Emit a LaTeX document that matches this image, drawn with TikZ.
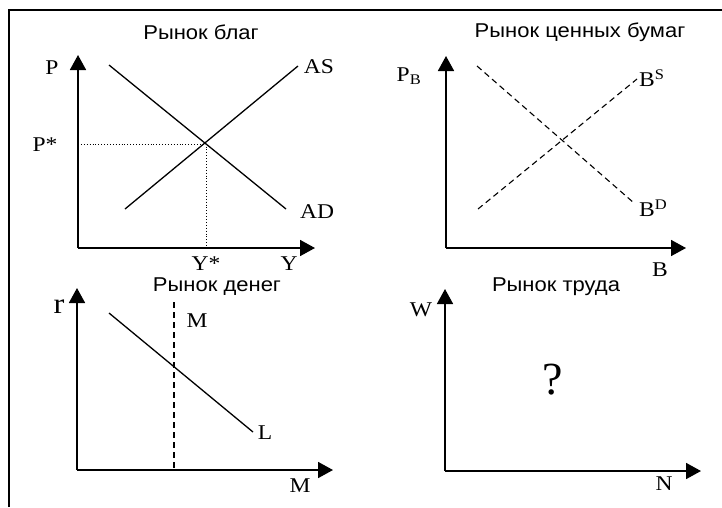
\documentclass[tikz,border=0pt]{standalone}
\usepackage{fontspec}
\setmainfont{Liberation Serif}[FakeStretch=1.12]
\newfontfamily\titlefont{Liberation Sans}[FakeStretch=1.1]
\newfontfamily\markfont{Liberation Serif}
\usetikzlibrary{arrows.meta}

\begin{document}
\begin{tikzpicture}[x=1pt, y=-1pt,
    every node/.style={font=\fontsize{21}{21}\selectfont, inner sep=0pt},
    axis/.style={line width=1.7pt, -{Triangle[length=15pt,width=16pt]}},
    curve/.style={line width=1.3pt},
    dashcurve/.style={line width=1.1pt, dash pattern=on 6pt off 4pt},
    guide/.style={line width=0.9pt, dotted},
    paneltitle/.style={font=\titlefont\fontsize{20}{20}\selectfont}]
    \useasboundingbox (0,0) rectangle (722,507);
    % Frame
    \draw[line width=1.6pt] (9,507) -- (9,10) -- (722,10);

    % Goods market
    \coordinate (O1) at (78,248);
    \coordinate (ytip1) at (78,55);
    \coordinate (xtip1) at (315,248);
    \coordinate (adA) at (109,65);  \coordinate (adB) at (286,209);
    \coordinate (asA) at (125,209); \coordinate (asB) at (298,66);
    \coordinate (eq1) at (206,144);
    \coordinate (peq) at (78,144);  \coordinate (yeq) at (206,248);
    \node[paneltitle] (t1) at (201,32) {Рынок благ};
    \draw[axis] (O1) -- (ytip1);
    \draw[axis] (O1) -- (xtip1);
    \draw[curve] (adA) -- (adB);
    \draw[curve] (asA) -- (asB);
    \draw[guide] (peq) -- (eq1) -- (yeq);
    \node (lP) at (52,68) {P};
    \node (lPs) at (45,145) {P*};
    \node (lYs) at (206,264) {Y*};
    \node (lY) at (289,264) {Y};
    \node (lAS) at (319,67) {AS};
    \node (lAD) at (317,212) {AD};

    % Bond market
    \coordinate (O2) at (446,248);
    \coordinate (ytip2) at (446,56);
    \coordinate (xtip2) at (686,248);
    \coordinate (bdA) at (477,66);  \coordinate (bdB) at (634,203);
    \coordinate (bsA) at (478,209); \coordinate (bsB) at (637,79);
    \node[paneltitle] (t2) at (580,32) {Рынок ценных бумаг};
    \draw[axis] (O2) -- (ytip2);
    \draw[axis] (O2) -- (xtip2);
    \draw[dashcurve] (bdA) -- (bdB);
    \draw[dashcurve] (bsA) -- (bsB);
    \node (lPB) at (409,76) {P\textsubscript{B}};
    \node[anchor=west] (lBS) at (639,78) {B\textsuperscript{S}};
    \node[anchor=west] (lBD) at (639,208) {B\textsuperscript{D}};
    \node (lB) at (660,270) {B};

    % Money market
    \coordinate (O3) at (77,470);
    \coordinate (ytip3) at (77,288);
    \coordinate (xtip3) at (333,470);
    \coordinate (msTop) at (174,302); \coordinate (msBot) at (174,470);
    \coordinate (lA) at (109,313); \coordinate (lB) at (253,432);
    \node[paneltitle] (t3) at (217,287) {Рынок денег};
    \draw[axis] (O3) -- (ytip3);
    \draw[axis] (O3) -- (xtip3);
    \draw[dashcurve] (msTop) -- (msBot);
    \draw[curve] (lA) -- (lB);
    \node[font=\fontsize{29}{29}\selectfont] (lr) at (59,307) {r};
    \node (lM) at (197,321) {M};
    \node (lL) at (265,433) {L};
    \node (lMx) at (300,486) {M};

    % Labour market
    \coordinate (O4) at (445,471);
    \coordinate (ytip4) at (445,289);
    \coordinate (xtip4) at (701,471);
    \node[paneltitle] (t4) at (556,287) {Рынок труда};
    \draw[axis] (O4) -- (ytip4);
    \draw[axis] (O4) -- (xtip4);
    \node (lW) at (421,310) {W};
    \node[font=\markfont\fontsize{46}{46}\selectfont] (lq) at (553,380) {?};
    \node (lN) at (664,484) {N};
\end{tikzpicture}
\end{document}
